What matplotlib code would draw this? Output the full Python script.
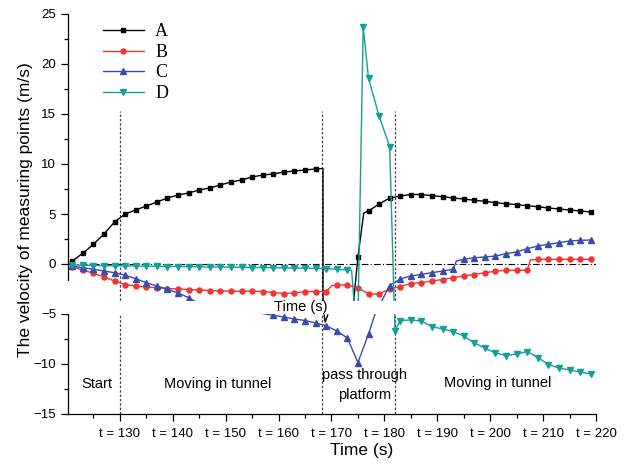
import numpy as np
import matplotlib
matplotlib.use("Agg")
import matplotlib.pyplot as plt
from matplotlib.patches import Rectangle

plt.rcParams['font.family'] = ['Liberation Sans', 'DejaVu Sans']
nan = np.nan

# ---------------- data ----------------
A_t = [121, 123, 125, 127, 129, 131, 133, 135, 137, 139, 141, 143, 145, 147, 149, 151,
       153, 155, 157, 159, 161, 163, 165, 167, 168.4, 168.4, nan, 168.6, 168.8, 169.3, nan,
       174.1, 175, 176.1, 177, 179, 181, 183, 185, 187, 189, 191, 193, 195, 197, 199, 201,
       203, 205, 207, 209, 211, 213, 215, 217, 219]
A_v = [0.3, 1.07, 1.97, 3.0, 4.2, 5.0, 5.4, 5.8, 6.2, 6.6, 6.9, 7.1, 7.4, 7.6, 7.9, 8.2,
       8.4, 8.7, 8.9, 9.0, 9.2, 9.3, 9.4, 9.5, 9.55, -4.2, nan, -5.1, -5.8, -5.1, nan,
       -4.2, 0.7, 5.1, 5.3, 6.0, 6.6, 6.8, 6.95, 6.95, 6.83, 6.73, 6.6, 6.5, 6.37, 6.27, 6.13,
       6.03, 5.93, 5.83, 5.73, 5.6, 5.5, 5.4, 5.3, 5.2]

B_t = [121, 123, 125, 127, 129, 131, 133, 135, 137, 139, 141, 143, 145, 147, 149, 151,
       153, 155, 157, 159, 161, 163, 165, 167, 169, 170.1, 171, 173, 175, 177, 179, 181,
       183, 185, 187, 189, 191, 193, 195, 197, 199, 201, 203, 205, 207, 207.6, 209, 211,
       213, 215, 217, 219]
B_v = [-0.27, -0.6, -0.93, -1.3, -1.7, -2.05, -2.2, -2.3, -2.37, -2.45, -2.5, -2.55, -2.6,
       -2.65, -2.7, -2.7, -2.73, -2.7, -2.75, -2.85, -2.95, -2.9, -2.75, -2.75, -2.75, -2.15,
       -2.1, -2.1, -2.37, -3.0, -3.0, -2.5, -2.25, -1.95, -1.85, -1.7, -1.55, -1.37, -1.2,
       -1.05, -0.87, -0.72, -0.63, -0.63, -0.62, 0.4, 0.47, 0.47, 0.47, 0.47, 0.47, 0.47]

C_t = [121, 123, 125, 127, 129, 131, 133, 135, 137, 139, 141, 143, 145.1, nan,
       156.3, 159, 161, 163, 165, 167, 169, 171, 173, 175, 177, 178.3, nan,
       179.2, 181, 183, 185, 187, 189, 191, 193, 193.6, 195, 197, 199, 201, 203, 205, 207,
       209, 211, 213, 215, 217, 219]
C_v = [-0.2, -0.37, -0.53, -0.7, -0.87, -1.12, -1.47, -1.87, -2.2, -2.53, -2.9, -3.37, -4.0, nan,
       -4.9, -5.13, -5.3, -5.5, -5.65, -5.9, -6.17, -6.7, -7.4, -9.85, -7.0, -4.9, nan,
       -4.0, -2.15, -1.5, -1.2, -1.03, -0.87, -0.7, -0.53, 0.3, 0.47, 0.63, 0.7, 0.8, 1.03,
       1.2, 1.53, 1.8, 1.97, 2.13, 2.3, 2.37, 2.4]

D_t = [121, 123, 125, 127, 129, 131, 133, 135, 137, 139, 141, 143, 145, 147, 149, 151,
       153, 155, 157, 159, 161, 163, 165, 167, 169, 171, 173, 173.8, 174.3, nan,
       175.05, 176.0, 177, 179, 181, 182.0, 183, 185, 187, 189, 191, 193, 195, 197, 199,
       201, 203, 205, 207, 209, 211, 213, 215, 217, 219]
D_v = [-0.1, -0.12, -0.15, -0.17, -0.18, -0.2, -0.2, -0.22, -0.23, -0.25, -0.25, -0.27,
       -0.28, -0.3, -0.3, -0.32, -0.33, -0.35, -0.35, -0.37, -0.38, -0.4, -0.42, -0.43,
       -0.45, -0.53, -0.6, -0.62, -4.0, nan,
       -4.0, 23.7, 18.57, 14.8, 11.73, -6.7, -5.65, -5.6, -5.7, -6.27, -6.5, -6.75, -7.2,
       -7.9, -8.4, -8.9, -9.15, -9.0, -8.75, -9.35, -10.05, -10.4, -10.6, -10.8, -11.0]

series_names = ['A', 'B', 'C', 'D']
phase_times = [130, 168.3, 182.1]
tick_times = [130, 140, 150, 160, 170, 180, 190, 200, 210, 220]
tick_labels = ['t = %d' % t for t in tick_times]
phase_texts = [(125.6, -12.0, 'Start'), (148.5, -12.0, 'Moving in tunnel'),
               (176.3, -12.1, 'pass through\nplatform'), (201.5, -11.9, 'Moving in tunnel')]

# ---------------- plot ----------------
fig = plt.figure(figsize=(6.28, 4.63), dpi=100)
ax = fig.add_axes([68/628, 49/463, 528/628, 400/463])

colors = ['#000000', '#ef3535', '#3b4bab', '#159f9b']
markers = ['s', 'o', '^', 'v']
msizes = [3.0, 3.6, 3.8, 3.8]
data = [(A_t, A_v), (B_t, B_v), (C_t, C_v), (D_t, D_v)]

def mark_idx(ts):
    return [i for i, t in enumerate(ts) if not np.isnan(t) and float(t).is_integer()]

for (ts, vs), c, m, ms, name in zip(data, colors, markers, msizes, series_names):
    ax.plot(ts, vs, color=c, lw=1.0, marker=m, ms=ms, markevery=mark_idx(ts),
            label=name, zorder=2)

ax.axhline(0, color='black', lw=0.8, ls=(0, (6, 2, 1, 2)), zorder=1.5)
for pt in phase_times:
    ax.vlines(pt, -15, 15.3, colors='#444444', lw=0.9, linestyles=(0, (2, 1.5)), zorder=1.5)

# white band of the composite figure
ax.add_patch(Rectangle((0, -5.0), 1.0, 1.3, transform=ax.get_yaxis_transform(),
                       facecolor='white', edgecolor='none', zorder=3, clip_on=False))
ax.add_patch(Rectangle((-0.01, -5.0), 0.02, 3.3, transform=ax.get_yaxis_transform(),
                       facecolor='white', edgecolor='none', zorder=3, clip_on=False))
ax.text(164.2, -4.25, 'Time (s)', fontsize=10.5, ha='center', va='center', zorder=4)

for x, y, s in phase_texts:
    ax.text(x, y, s, fontsize=10.5, ha='center', va='center', linespacing=1.55)

ax.set_xlim(120.2, 220)
ax.set_ylim(-15, 25)
ax.set_xticks(tick_times)
ax.set_xticklabels(tick_labels)
ax.set_xticks(np.arange(125, 220, 10), minor=True)
ax.set_yticks(np.arange(-15, 26, 5))
ax.set_yticks(np.arange(-12.5, 25, 5), minor=True)
ax.tick_params(axis='both', which='major', direction='out', length=5, width=0.9,
               labelsize=9.5, pad=3.5)
ax.tick_params(axis='both', which='minor', direction='out', length=3, width=0.9)
ax.tick_params(axis='x', which='major', pad=5)
for s in ['top', 'right']:
    ax.spines[s].set_visible(False)
for s in ['left', 'bottom']:
    ax.spines[s].set_linewidth(0.9)

ax.set_xlabel('Time (s)', fontsize=12.5)
ax.xaxis.set_label_coords(0.557, -0.072)
ax.set_ylabel('The velocity of measuring points (m/s)', fontsize=12.5)
ax.yaxis.set_label_coords(-0.066, 0.51)

leg = ax.legend(loc='upper left', bbox_to_anchor=(0.052, 0.995), frameon=False,
                prop={'family': 'Liberation Serif', 'size': 13}, handlelength=2.3,
                handletextpad=0.6, labelspacing=0.2, borderaxespad=0)

fig.savefig('out.png', dpi=100)
